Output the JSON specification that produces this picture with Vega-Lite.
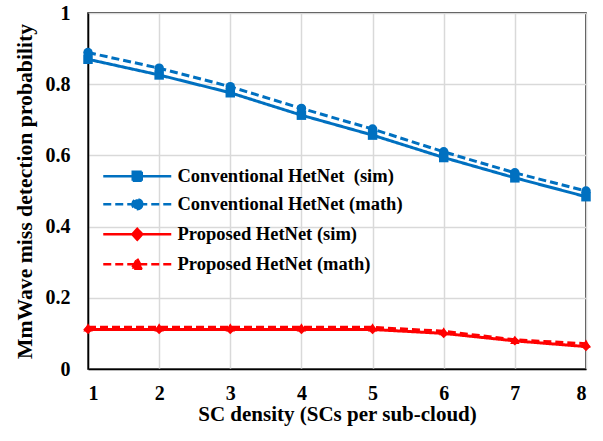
{
  "$schema": "https://vega.github.io/schema/vega-lite/v6.json",
  "autosize": "none",
  "padding": {"left": 88, "top": 13, "right": 17, "bottom": 72},
  "width": 498,
  "height": 356,
  "background": "white",
  "config": {
    "view": {"stroke": "black", "strokeWidth": 1.5},
    "font": "Liberation Serif",
    "axis": {
      "labelFont": "Liberation Serif",
      "labelFontWeight": "bold",
      "labelFontSize": 20,
      "labelColor": "black",
      "titleFont": "Liberation Serif",
      "titleFontWeight": "bold",
      "titleFontSize": 21,
      "titleColor": "black",
      "gridColor": "#d9d9d9",
      "gridWidth": 1.5,
      "gridOpacity": 1,
      "domainColor": "black",
      "domainWidth": 1.5,
      "ticks": false
    }
  },
  "data": {
    "values": [
      {"x": 1, "series": "Conventional HetNet\u00a0 (sim)", "y": 0.870},
      {"x": 2, "series": "Conventional HetNet\u00a0 (sim)", "y": 0.826},
      {"x": 3, "series": "Conventional HetNet\u00a0 (sim)", "y": 0.776},
      {"x": 4, "series": "Conventional HetNet\u00a0 (sim)", "y": 0.713},
      {"x": 5, "series": "Conventional HetNet\u00a0 (sim)", "y": 0.657},
      {"x": 6, "series": "Conventional HetNet\u00a0 (sim)", "y": 0.594},
      {"x": 7, "series": "Conventional HetNet\u00a0 (sim)", "y": 0.537},
      {"x": 8, "series": "Conventional HetNet\u00a0 (sim)", "y": 0.484},
      {"x": 1, "series": "Conventional HetNet (math)", "y": 0.889},
      {"x": 2, "series": "Conventional HetNet (math)", "y": 0.845},
      {"x": 3, "series": "Conventional HetNet (math)", "y": 0.793},
      {"x": 4, "series": "Conventional HetNet (math)", "y": 0.732},
      {"x": 5, "series": "Conventional HetNet (math)", "y": 0.674},
      {"x": 6, "series": "Conventional HetNet (math)", "y": 0.610},
      {"x": 7, "series": "Conventional HetNet (math)", "y": 0.551},
      {"x": 8, "series": "Conventional HetNet (math)", "y": 0.500},
      {"x": 1, "series": "Proposed HetNet (sim)", "y": 0.111},
      {"x": 2, "series": "Proposed HetNet (sim)", "y": 0.111},
      {"x": 3, "series": "Proposed HetNet (sim)", "y": 0.111},
      {"x": 4, "series": "Proposed HetNet (sim)", "y": 0.111},
      {"x": 5, "series": "Proposed HetNet (sim)", "y": 0.111},
      {"x": 6, "series": "Proposed HetNet (sim)", "y": 0.100},
      {"x": 7, "series": "Proposed HetNet (sim)", "y": 0.079},
      {"x": 8, "series": "Proposed HetNet (sim)", "y": 0.063},
      {"x": 1, "series": "Proposed HetNet (math)", "y": 0.117},
      {"x": 2, "series": "Proposed HetNet (math)", "y": 0.117},
      {"x": 3, "series": "Proposed HetNet (math)", "y": 0.117},
      {"x": 4, "series": "Proposed HetNet (math)", "y": 0.117},
      {"x": 5, "series": "Proposed HetNet (math)", "y": 0.117},
      {"x": 6, "series": "Proposed HetNet (math)", "y": 0.106},
      {"x": 7, "series": "Proposed HetNet (math)", "y": 0.082},
      {"x": 8, "series": "Proposed HetNet (math)", "y": 0.071}
    ]
  },
  "encoding": {
    "x": {
      "field": "x", "type": "quantitative",
      "scale": {"domain": [1, 8], "nice": false, "zero": false},
      "axis": {"values": [1, 2, 3, 4, 5, 6, 7, 8], "format": "d", "labelPadding": 14, "titlePadding": 0, "title": "SC density (SCs per sub-cloud)"}
    },
    "y": {
      "field": "y", "type": "quantitative",
      "scale": {"domain": [0, 1], "nice": false},
      "axis": {"values": [0, 0.2, 0.4, 0.6, 0.8, 1], "format": "~g", "labelPadding": 18, "titlePadding": 9, "titleFontSize": 21.7, "title": "MmWave miss detection probability"}
    }
  },
  "layer": [
    {
      "mark": {"type": "line", "strokeWidth": 3},
      "encoding": {
        "color": {"field": "series", "type": "nominal", "legend": null,
          "scale": {"domain": ["Conventional HetNet\u00a0 (sim)", "Conventional HetNet (math)", "Proposed HetNet (sim)", "Proposed HetNet (math)"], "range": ["#0070c0", "#0070c0", "#ff0000", "#ff0000"]}},
        "strokeDash": {"field": "series", "type": "nominal", "legend": null,
          "scale": {"domain": ["Conventional HetNet\u00a0 (sim)", "Conventional HetNet (math)", "Proposed HetNet (sim)", "Proposed HetNet (math)"], "range": [[1, 0], [8, 4], [1, 0], [8, 4]]}}
      }
    },
    {
      "mark": {"type": "point", "filled": true, "opacity": 1, "size": 90},
      "encoding": {
        "color": {"field": "series", "type": "nominal", "legend": null},
        "shape": {"field": "series", "type": "nominal", "legend": null,
          "scale": {"domain": ["Conventional HetNet\u00a0 (sim)", "Conventional HetNet (math)", "Proposed HetNet (sim)", "Proposed HetNet (math)"], "range": ["square", "circle", "diamond", "triangle-up"]}}
      }
    },
    {
      "mark": {"type": "point", "filled": true, "opacity": 0, "size": 100},
      "encoding": {
        "color": {"field": "series", "type": "nominal",
          "legend": {
            "orient": "none", "legendX": 40, "legendY": 154, "title": null,
            "padding": 0, "labelFont": "Liberation Serif", "labelFontWeight": "bold",
            "labelFontSize": 18.5, "labelColor": "black", "labelLimit": 400,
            "symbolSize": 100, "symbolStrokeWidth": 2.5, "labelOffset": 31, "rowPadding": 8,
            "encode": {"symbols": {"update": {"opacity": {"value": 1}, "stroke": {"scale": "color", "field": "value"}, "strokeWidth": {"value": 2.5}}}}
          }},
        "shape": {"field": "series", "type": "nominal",
          "scale": {"domain": ["Conventional HetNet\u00a0 (sim)", "Conventional HetNet (math)", "Proposed HetNet (sim)", "Proposed HetNet (math)"],
            "range": [
              "M-6.8,0H6.8M-0.9,-0.9H0.9V0.9H-0.9Z",
              "M-6.8,0H6.8M1,0A1,1,0,1,1,-1,0A1,1,0,1,1,1,0Z",
              "M-6.8,0H6.8M0,-1.1L1,0L0,1.1L-1,0Z",
              "M-6.8,0H6.8M0,-1.1L1.1,0.9H-1.1Z"
            ]}},
        "strokeDash": {"field": "series", "type": "nominal"}
      }
    }
  ],
  "resolve": {"scale": {"shape": "independent"}, "legend": {"color": "independent", "shape": "independent", "strokeDash": "independent"}}
}
